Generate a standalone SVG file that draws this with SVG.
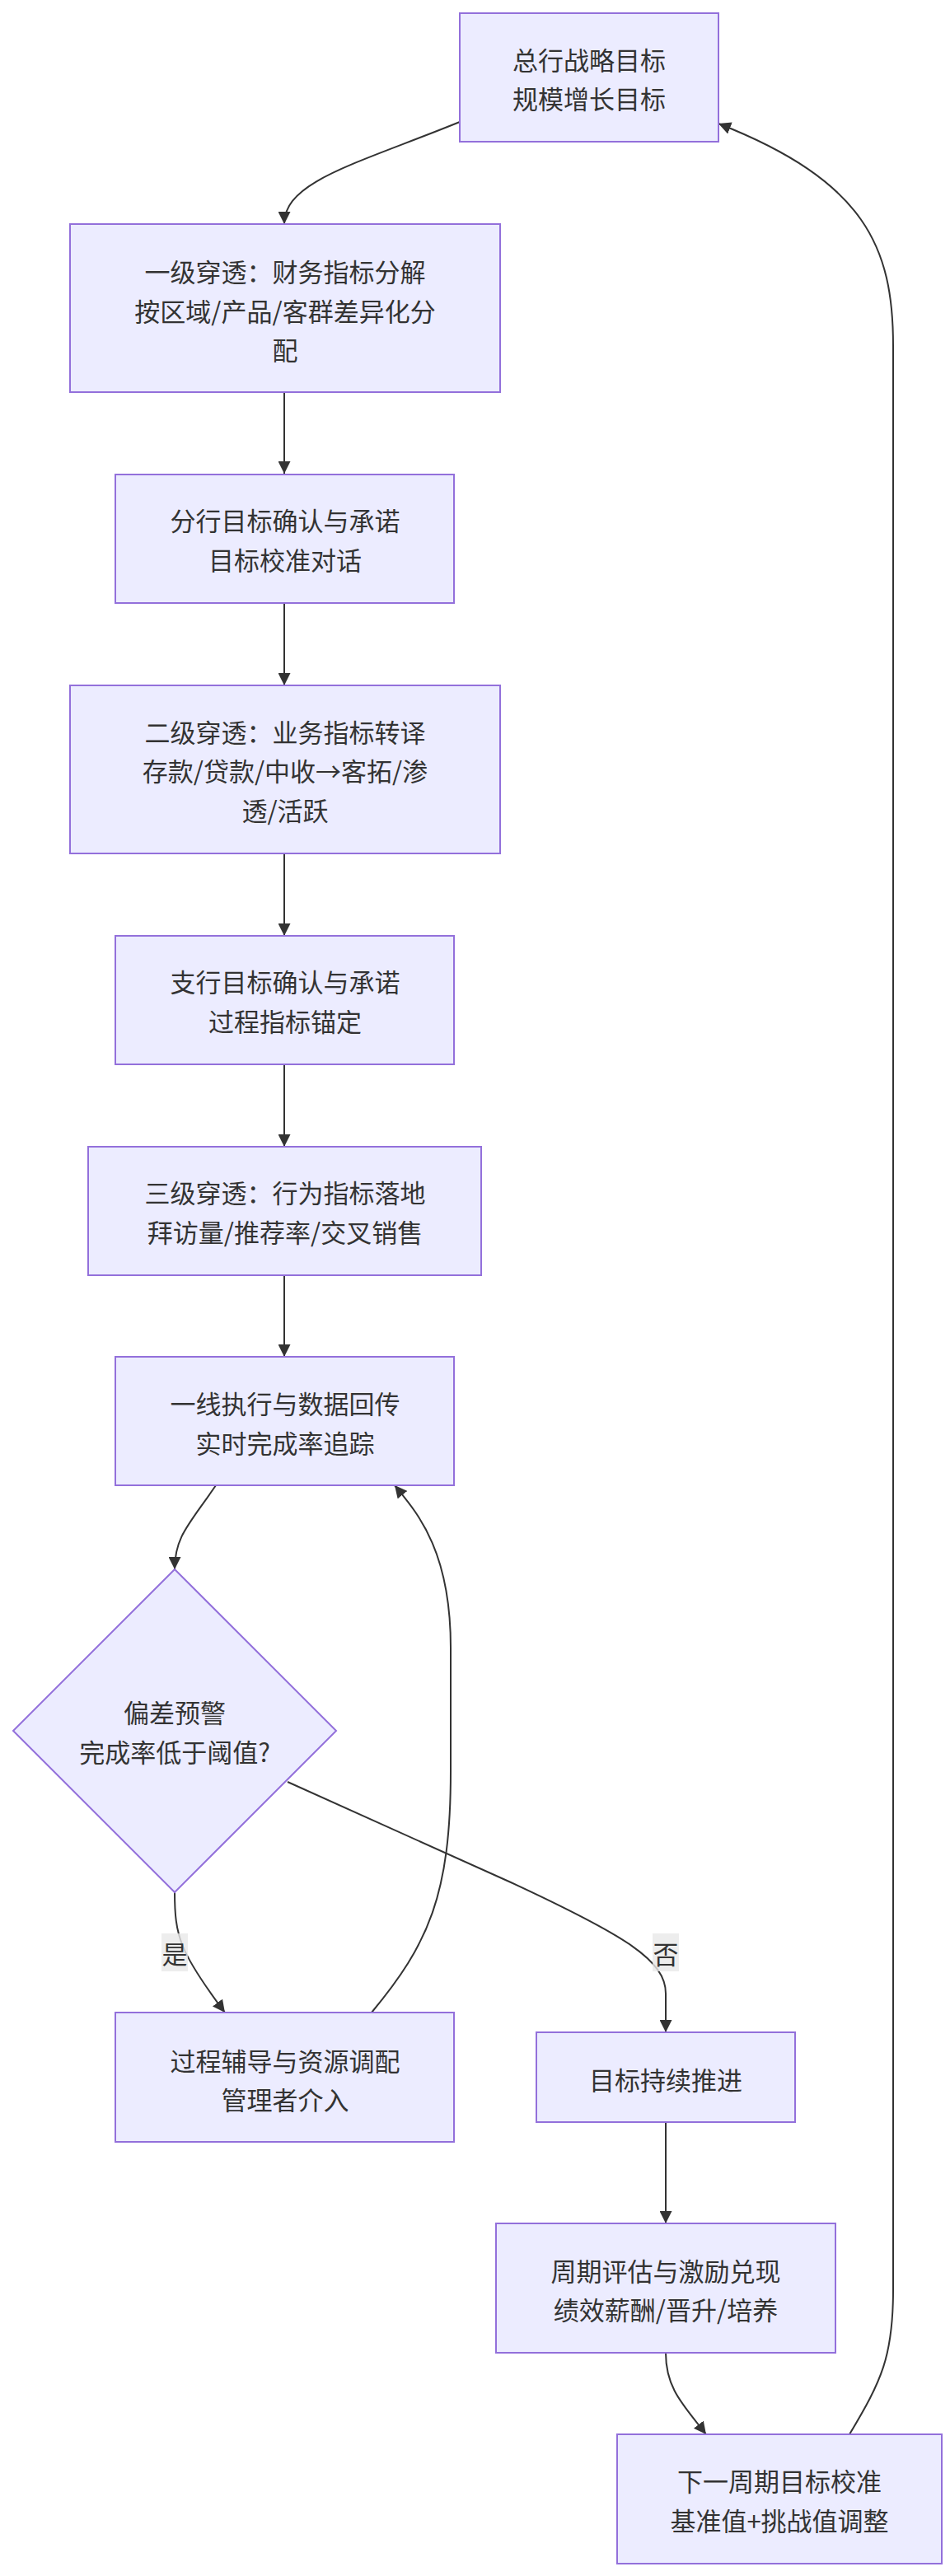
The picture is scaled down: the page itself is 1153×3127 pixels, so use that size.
<svg xmlns="http://www.w3.org/2000/svg" width="1153" height="3127" viewBox="0 0 1153 3127">
<style>
.node rect, .node polygon { fill: #ECECFF; stroke: #9370DB; stroke-width: 2; }
.node text, .elabel text { font-family: "Noto Sans CJK SC", "Liberation Sans", sans-serif; font-size: 31px; fill: #333333; text-anchor: middle; dominant-baseline: central; }
.edges path { fill: none; stroke: #333333; stroke-width: 2; }
.elabel rect { fill: #e8e8e8; fill-opacity: 0.8; stroke: none; }
</style>
<defs>
<marker id="arrow" viewBox="0 0 10 10" refX="10" refY="5" markerUnits="userSpaceOnUse" markerWidth="15" markerHeight="15" orient="auto">
<path d="M0,0 L10,5 L0,10 z" fill="#333333"/>
</marker>
</defs>
<rect x="0" y="0" width="1153" height="3127" fill="#ffffff"/>
<g class="edges">
<path d="M558,148 C430,200 345,220 345,272" marker-end="url(#arrow)"/>
<path d="M345,476 L345,575" marker-end="url(#arrow)"/>
<path d="M345,732 L345,832" marker-end="url(#arrow)"/>
<path d="M345,1036 L345,1136" marker-end="url(#arrow)"/>
<path d="M345,1292 L345,1392" marker-end="url(#arrow)"/>
<path d="M345,1548 L345,1647" marker-end="url(#arrow)"/>
<path d="M262,1803 C230,1850 212,1865 212,1905" marker-end="url(#arrow)"/>
<path d="M212,2297 C212,2350 218,2370 273,2443" marker-end="url(#arrow)"/>
<path d="M451,2443 C520,2360 547,2300 547,2150 L547,2000 C547,1880 505,1835 479,1803" marker-end="url(#arrow)"/>
<path d="M349,2163 L620,2285 C760,2350 808,2380 808,2420 L808,2467" marker-end="url(#arrow)"/>
<path d="M808,2576 L808,2699" marker-end="url(#arrow)"/>
<path d="M808,2856 C808,2900 830,2920 857,2955" marker-end="url(#arrow)"/>
<path d="M1031,2955 C1070,2890 1084,2860 1084,2780 L1084,420 C1084,300 1050,220 872,150" marker-end="url(#arrow)"/>
</g>
<g class="elabel" id="label-yes">
<rect x="196" y="2347" width="32" height="46"/>
<text x="212" y="2370">是</text>
</g>
<g class="elabel" id="label-no">
<rect x="792" y="2347" width="32" height="46"/>
<text x="808" y="2370">否</text>
</g>
<g class="node" id="n1">
<rect x="558" y="16" width="314" height="156"/>
<text x="715" y="71">总行战略目标</text>
<text x="715" y="118">规模增长目标</text>
</g>
<g class="node" id="n2">
<rect x="85" y="272" width="522" height="204"/>
<text x="346" y="328">一级穿透：财务指标分解</text>
<text x="346" y="376">按区域/产品/客群差异化分</text>
<text x="346" y="423">配</text>
</g>
<g class="node" id="n3">
<rect x="140" y="576" width="411" height="156"/>
<text x="346" y="630">分行目标确认与承诺</text>
<text x="346" y="678">目标校准对话</text>
</g>
<g class="node" id="n4">
<rect x="85" y="832" width="522" height="204"/>
<text x="346" y="887">二级穿透：业务指标转译</text>
<text x="346" y="934">存款/贷款/中收→客拓/渗</text>
<text x="346" y="982">透/活跃</text>
</g>
<g class="node" id="n5">
<rect x="140" y="1136" width="411" height="156"/>
<text x="346" y="1190">支行目标确认与承诺</text>
<text x="346" y="1238">过程指标锚定</text>
</g>
<g class="node" id="n6">
<rect x="107" y="1392" width="477" height="156"/>
<text x="346" y="1446">三级穿透：行为指标落地</text>
<text x="346" y="1494">拜访量/推荐率/交叉销售</text>
</g>
<g class="node" id="n7">
<rect x="140" y="1647" width="411" height="156"/>
<text x="346" y="1702">一线执行与数据回传</text>
<text x="346" y="1750">实时完成率追踪</text>
</g>
<g class="node" id="n8">
<polygon points="212,1905 408,2101 212,2297 16,2101"/>
<text x="212" y="2077">偏差预警</text>
<text x="212" y="2125">完成率低于阈值?</text>
</g>
<g class="node" id="n9">
<rect x="140" y="2443" width="411" height="157"/>
<text x="346" y="2500">过程辅导与资源调配</text>
<text x="346" y="2547">管理者介入</text>
</g>
<g class="node" id="n10">
<rect x="651" y="2467" width="314" height="109"/>
<text x="808" y="2523">目标持续推进</text>
</g>
<g class="node" id="n11">
<rect x="602" y="2699" width="412" height="157"/>
<text x="808" y="2755">周期评估与激励兑现</text>
<text x="808" y="2802">绩效薪酬/晋升/培养</text>
</g>
<g class="node" id="n12">
<rect x="749" y="2955" width="394" height="157"/>
<text x="946" y="3010">下一周期目标校准</text>
<text x="946" y="3058">基准值+挑战值调整</text>
</g>
</svg>
